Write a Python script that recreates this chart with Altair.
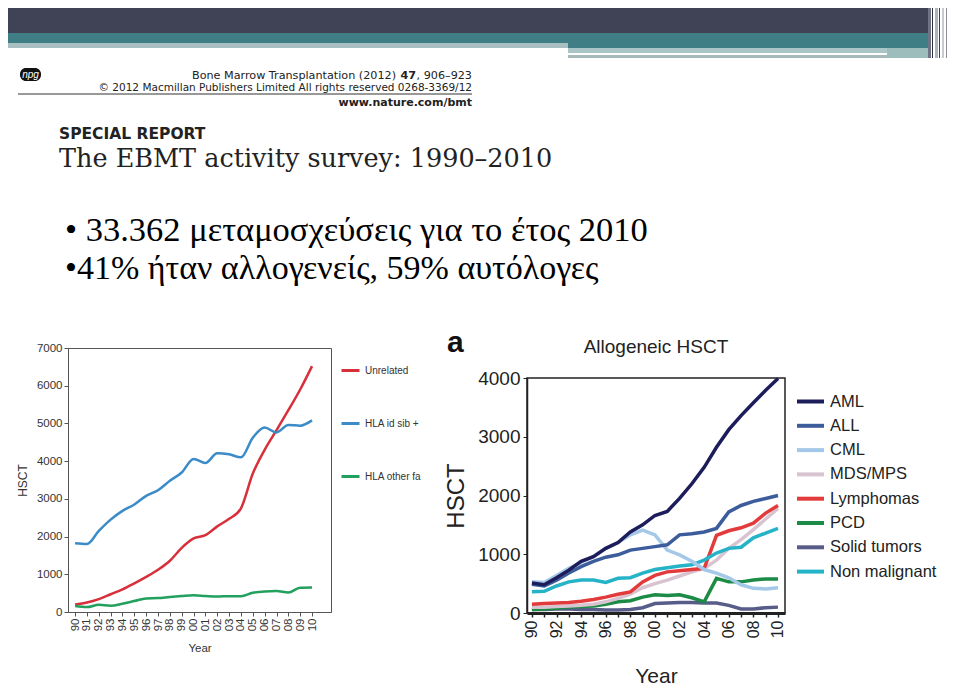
import altair as alt
import pandas as pd

# ---------------- data ----------------
years = list(range(1990, 2011))

donor_names = ["Unrelated", "HLA id sib +", "HLA other fa"]
donor_colors = ["#d7303b", "#3a8bc7", "#22a05e"]
unrelated = [200, 250, 340, 470, 600, 760, 930, 1120, 1360, 1700, 1950, 2040, 2270, 2470, 2750, 3670, 4300, 4820, 5350, 5900, 6520]
hla_id_sib = [1820, 1800, 2150, 2450, 2680, 2850, 3080, 3230, 3480, 3700, 4060, 3950, 4210, 4180, 4100, 4620, 4890, 4760, 4960, 4940, 5080]
hla_other = [160, 130, 190, 165, 220, 290, 360, 370, 400, 425, 445, 425, 410, 420, 420, 510, 545, 555, 515, 645, 650]

disease_names = ["AML", "ALL", "CML", "MDS/MPS", "Lymphomas", "PCD", "Solid tumors", "Non malignant"]
disease_colors = ["#1d1d5c", "#3c5c9c", "#a4c9e8", "#d8c3d0", "#e33b3b", "#1b8b45", "#585c88", "#25b3c8"]
aml = [510, 480, 600, 730, 880, 960, 1100, 1200, 1380, 1500, 1660, 1730, 1950, 2200, 2480, 2820, 3120, 3360, 3580, 3790, 3990]
all_ = [490, 460, 560, 680, 790, 880, 950, 990, 1070, 1100, 1130, 1160, 1330, 1350, 1380, 1440, 1720, 1830, 1900, 1950, 2000]
cml = [530, 520, 640, 760, 860, 960, 1100, 1200, 1330, 1410, 1330, 1070, 990, 880, 740, 680, 600, 480, 420, 410, 430]
mds = [100, 100, 110, 120, 130, 150, 190, 250, 320, 430, 500, 560, 630, 700, 760, 900, 1100, 1250, 1420, 1600, 1780]
lymphomas = [150, 160, 170, 180, 200, 230, 270, 320, 360, 530, 640, 700, 720, 740, 760, 1320, 1400, 1450, 1530, 1700, 1830]
pcd = [60, 70, 80, 100, 110, 120, 150, 190, 210, 270, 310, 300, 310, 260, 190, 590, 530, 530, 560, 580, 580]
solid = [60, 60, 70, 70, 60, 60, 50, 50, 60, 90, 160, 170, 180, 180, 170, 170, 130, 70, 70, 90, 100]
non_malignant = [360, 370, 460, 530, 560, 560, 520, 590, 600, 680, 740, 770, 800, 820, 900, 1020, 1100, 1120, 1280, 1360, 1440]

left_y_ticks = [0, 1000, 2000, 3000, 4000, 5000, 6000, 7000]
right_y_ticks = [0, 1000, 2000, 3000, 4000]

left_series = {"Unrelated": unrelated, "HLA id sib +": hla_id_sib, "HLA other fa": hla_other}
left_df = pd.DataFrame(
    [{"year": y, "count": v, "donor": k} for k, vals in left_series.items() for y, v in zip(years, vals)]
)

right_series = {
    "Solid tumors": solid, "PCD": pcd, "MDS/MPS": mds, "Lymphomas": lymphomas,
    "Non malignant": non_malignant, "CML": cml, "ALL": all_, "AML": aml,
}
right_df = pd.DataFrame(
    [{"year": y, "count": v, "disease": k} for k, vals in right_series.items() for y, v in zip(years, vals)]
)

SANS = "Liberation Sans, Arial, sans-serif"
one = pd.DataFrame({"k": [0]})


def rect(x1, x2, y1, y2, color, **kw):
    return alt.Chart(one).mark_rect(color=color, **kw).encode(
        x=alt.value(x1), x2=alt.value(x2), y=alt.value(y1), y2=alt.value(y2))


def text(s, x, y, **kw):
    params = dict(baseline="alphabetic", align="left")
    params.update(kw)
    return alt.Chart(one).mark_text(text=s, **params).encode(x=alt.value(x), y=alt.value(y))


# ---------------- header (coordinates relative to the left plot's left edge) ----------------
header_layers = [
    rect(-60, 862, 0, 25, "#404356"),
    rect(-60, 862, 25, 35, "#3e7e84"),
    rect(-60, 500, 35, 40, "#a7bfc1"),
    rect(500, 862, 35, 40, "#3e7e84"),
    rect(500, 819, 40, 45, "#a9c5c6"),
    rect(500, 819, 45, 47, "#ffffff"),
    rect(500, 819, 47, 50, "#a5b9b9"),
    rect(819, 862, 40, 50, "#9dbdbd"),
    rect(860, 863, 0, 50, "#707383"),
    rect(864, 865, 0, 50, "#2e3040"),
    rect(867, 870, 0, 50, "#b0b3bb"),
    rect(871, 872, 0, 50, "#3b3d4d"),
    rect(874, 876, 0, 50, "#c8cacf"),
    rect(878, 879, 0, 50, "#8a8c96"),
    rect(-48, -27, 60, 73, "#111111", cornerRadius=6),
    text("npg", -37.5, 70, align="center", color="white", fontSize=10, fontStyle="italic", font=SANS),
    text("Bone Marrow Transplantation (2012)", 328, 71, align="right", fontSize=11.2,
         font="DejaVu Sans", color="#222"),
    text("47", 348, 71, align="right", fontSize=11.2, font="DejaVu Sans", fontWeight="bold", color="#222"),
    text(", 906–923", 404, 71, align="right", fontSize=11.2, font="DejaVu Sans", color="#222"),
    text("© 2012 Macmillan Publishers Limited   All rights reserved 0268-3369/12", 404, 83,
         align="right", fontSize=10.5, font="DejaVu Sans", color="#222"),
    alt.Chart(one).mark_rule(color="#333", strokeWidth=1).encode(
        x=alt.value(-50), x2=alt.value(404), y=alt.value(86)),
    text("www.nature.com/bmt", 404, 98, align="right", fontSize=11, font="DejaVu Sans",
         fontWeight="bold", color="#222"),
    text("SPECIAL REPORT", -9, 131, fontSize=15.5, font="DejaVu Sans", fontWeight="bold", color="#222"),
    text("The EBMT activity survey: 1990–2010", -9, 159, fontSize=25.5, font="DejaVu Serif", color="#222"),
    text("• 33.362 μεταμοσχεύσεις για το έτος 2010", -3, 233, fontSize=34.5, font="Liberation Serif", color="#000"),
    text("•41% ήταν αλλογενείς, 59% αυτόλογες", -3, 271, fontSize=34, font="Liberation Serif", color="#000"),
]
header = alt.layer(*header_layers).properties(width=876, height=300)

# ---------------- left chart ----------------
left = alt.Chart(left_df).mark_line(interpolate="monotone", strokeWidth=2.5).encode(
    x=alt.X("year:Q",
            scale=alt.Scale(domain=[1989.4, 2011.6], nice=False, zero=False),
            axis=alt.Axis(values=years, labelExpr="slice(toString(datum.value), 2)", labelAngle=-90,
                          labelFontSize=11.5, labelFont=SANS, labelColor="#333", title="Year",
                          titleFont=SANS, titleFontSize=11.5, titleFontWeight="normal", titleColor="#333",
                          tickSize=4, tickColor="#555", domainColor="#555", grid=False,
                          labelPadding=2, titlePadding=12)),
    y=alt.Y("count:Q",
            scale=alt.Scale(domain=[0, 7000], nice=False),
            axis=alt.Axis(values=left_y_ticks, format="d", labelFontSize=11.5, labelFont=SANS,
                          labelColor="#333", title="HSCT", titleFont=SANS, titleFontSize=12,
                          titleFontWeight="normal", titleColor="#333", tickSize=4, tickColor="#555",
                          domainColor="#555", grid=False, labelPadding=2, titlePadding=7)),
    color=alt.Color("donor:N",
                    scale=alt.Scale(domain=donor_names, range=donor_colors),
                    legend=alt.Legend(title=None, orient="none", legendX=272, legendY=12,
                                      symbolType="stroke", symbolSize=324, symbolStrokeWidth=3,
                                      labelFontSize=10, labelFont=SANS, labelColor="#333",
                                      labelOffset=4, rowPadding=36, padding=0)),
).properties(width=263, height=264, view=alt.ViewBackground(stroke="#555", strokeWidth=1))

# ---------------- right chart ----------------
right_lines = alt.Chart(right_df).mark_line(strokeWidth=3.5).encode(
    x=alt.X("year:Q",
            scale=alt.Scale(domain=[1989.6, 2010.57], nice=False, zero=False),
            axis=alt.Axis(values=years,
                          labelExpr="datum.value % 2 == 0 ? slice(toString(datum.value), 2) : ''",
                          labelAngle=-90, labelFontSize=16, labelFont=SANS, labelColor="#222",
                          title="Year", titleFont=SANS, titleFontSize=21, titleFontWeight="normal",
                          titleColor="#222", tickSize=4, tickWidth=1.5, tickColor="#222",
                          domainColor="#222", domainWidth=3, grid=False,
                          labelPadding=3, titlePadding=28)),
    y=alt.Y("count:Q",
            scale=alt.Scale(domain=[0, 4000], nice=False),
            axis=alt.Axis(values=right_y_ticks, format="d", labelFontSize=19, labelFont=SANS,
                          labelColor="#222", title="HSCT", titleFont=SANS, titleFontSize=24,
                          titleFontWeight="normal", titleColor="#222", tickSize=4, tickColor="#222",
                          domainColor="#222", domainWidth=1.5, grid=False, labelPadding=3,
                          titlePadding=9)),
    color=alt.Color("disease:N",
                    scale=alt.Scale(domain=disease_names, range=disease_colors),
                    legend=alt.Legend(title=None, orient="none", legendX=268, legendY=8,
                                      symbolType="stroke", symbolSize=729, symbolStrokeWidth=4,
                                      labelFontSize=16.5, labelFont=SANS, labelColor="#222",
                                      labelOffset=4, rowPadding=0.3, padding=0)),
)

right_a = text("a", -80, -26, fontSize=30, fontWeight="bold", font=SANS, color="#111")
right_title = text("Allogeneic HSCT", 129, -25, align="center", fontSize=19, font=SANS, color="#222")

right = alt.layer(right_lines, right_a, right_title).properties(
    width=258, height=235, view=alt.ViewBackground(stroke="#222", strokeWidth=1.5))

spacer_top = alt.Chart(one).mark_point(opacity=0).encode(
    x=alt.value(0), y=alt.value(0)).properties(width=258, height=30)


def indep(c):
    return c.resolve_scale(color="independent", x="independent", y="independent").resolve_legend(
        color="independent")


right_col = indep(alt.vconcat(spacer_top, right, spacing=0, bounds="flush"))
row = indep(alt.hconcat(left, right_col, spacing=196, bounds="flush"))

chart = indep(alt.vconcat(header, row, spacing=40, bounds="flush")).configure_view(
    stroke=None).properties(padding=0, background="white")

chart.save("out.html", embed_options={"renderer": "svg", "actions": False})
